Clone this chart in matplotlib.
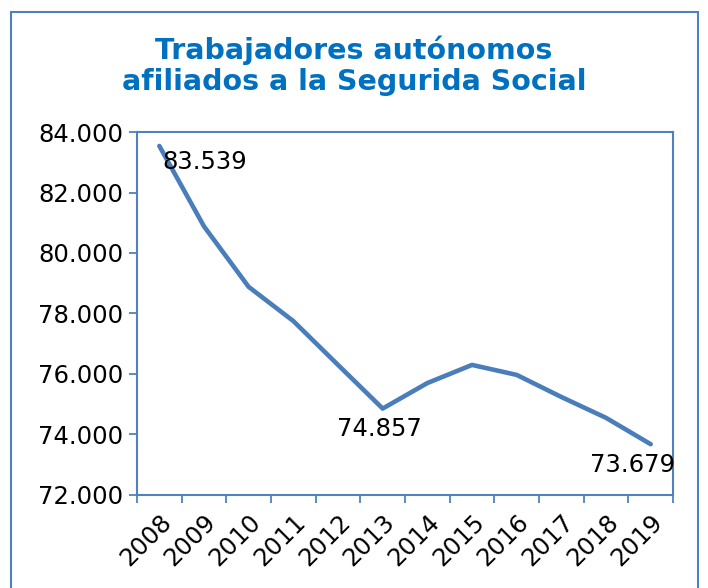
import numpy as np
import matplotlib.pyplot as plt
from matplotlib.patches import Rectangle
from matplotlib.ticker import FuncFormatter

years = ["2008", "2009", "2010", "2011", "2012", "2013",
         "2014", "2015", "2016", "2017", "2018", "2019"]
autonomos = [83539, 80880, 78880, 77750, 76300, 74857,
             75700, 76300, 75970, 75240, 74550, 73679]
labelled = {0: (2, -3, "left", "top"), 5: (-2, -6, "center", "top"), 11: (-13, -6, "center", "top")}

blue_line = "#4A7EBB"
blue_axis = "#4F81BD"
blue_title = "#0070C0"

fig = plt.figure(figsize=(7.08, 5.88), dpi=100)
ax = fig.add_axes([0.1935, 0.1582, 0.7571, 0.6173])

x = np.arange(len(years))
ax.plot(x, autonomos, color=blue_line, lw=3.3, solid_capstyle="round")

for i, (dx, dy, ha, va) in labelled.items():
    ax.annotate(f"{autonomos[i]:,}".replace(",", "."), (x[i], autonomos[i]),
                xytext=(dx, dy), textcoords="offset points",
                ha=ha, va=va, fontsize=17.5, color="black")

ax.set_xlim(-0.5, len(years) - 0.5)
ax.set_ylim(72000, 84000)
ax.set_yticks(np.arange(72000, 84001, 2000))
ax.yaxis.set_major_formatter(FuncFormatter(lambda v, p: f"{int(v):,}".replace(",", ".")))
ax.set_xticks(x)
ax.set_xticklabels(years, rotation=45, ha="right", rotation_mode="anchor")
ax.set_xticks(np.arange(-0.5, len(years), 1), minor=True)
ax.tick_params(axis="x", which="major", length=0, pad=11, labelsize=17.5)
ax.tick_params(axis="x", which="minor", length=6, width=1.3, color=blue_axis, direction="out")
ax.tick_params(axis="y", length=6, width=1.3, color=blue_axis, direction="out", labelsize=17.5, pad=4)
for s in ax.spines.values():
    s.set_color(blue_axis)
    s.set_linewidth(1.5)

fig.text(0.5, 0.888, "Trabajadores autónomos\nafiliados a la Segurida Social",
         ha="center", va="center", fontsize=20.5, fontweight="bold",
         color=blue_title, linespacing=1.15)

fig.patches.append(Rectangle((0.0155, -0.02), 0.971, 0.9996, transform=fig.transFigure,
                             fill=False, edgecolor=blue_axis, lw=1.5, clip_on=False))

fig.savefig("out.png", dpi=100)
